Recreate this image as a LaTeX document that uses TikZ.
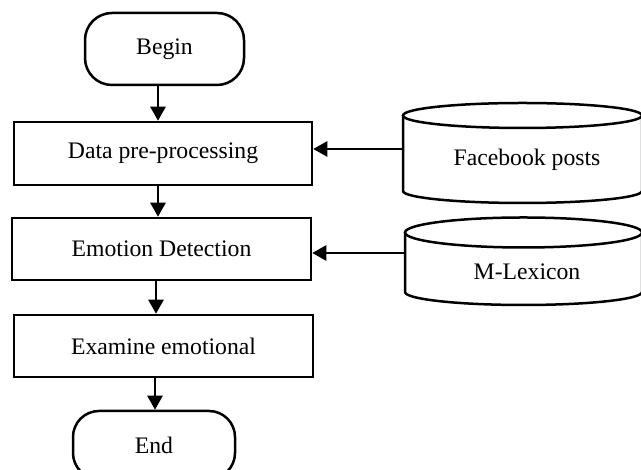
\documentclass[tikz,border=0pt]{standalone}
\usepackage{fontspec}
\setmainfont{Liberation Serif}
\usetikzlibrary{arrows.meta}
\tikzset{
  txt/.style={font=\fontsize{23.7}{28}\selectfont, inner sep=0pt},
  procbox/.style={txt, draw, line width=2.5pt, minimum width=299pt, minimum height=62pt},
  terminal/.style={txt, draw, line width=2.5pt, rounded corners=27pt},
  dbline/.style={line width=2.5pt},
  arr/.style={line width=2.5pt, -{Triangle[length=14pt,width=15pt]}}
}
\begin{document}
\begin{tikzpicture}[x=1pt,y=1pt]
\useasboundingbox (0,0) rectangle (641,470);

% flow chart column
\node[terminal, minimum width=159pt, minimum height=72pt] (begin) at (164.5,421) {Begin};
\node[procbox, minimum width=298pt, minimum height=63pt] (data) at (163,316.5) {Data pre-processing};
\node[procbox] (emo) at (161.5,221) {Emotion Detection};
\node[procbox] (exam) at (163.5,124) {Examine emotional};
\node[terminal, minimum width=162pt, minimum height=68pt, rounded corners=26pt] (end) at (154,25) {End};

% data stores (cylinders)
\draw[dbline] (403,354.5) -- (403,279) arc[start angle=180, end angle=360, x radius=119.5, y radius=12] -- (642,354.5);
\draw[dbline] (522.5,354.5) ellipse[x radius=119.5, y radius=12.5];
\node[txt] (fb) at (527,310) {Facebook posts};
\coordinate (fbin) at (403,321);

\draw[dbline] (405,237.5) -- (405,178) arc[start angle=180, end angle=360, x radius=118.5, y radius=13] -- (642,237.5);
\draw[dbline] (523.5,237.5) ellipse[x radius=118.5, y radius=15];
\node[txt] (ml) at (527,198) {M-Lexicon};
\coordinate (mlin) at (405,217);

% connectors
\draw[arr] ([xshift=-6.5pt]begin.south) -- ([xshift=-6.5pt]begin.south |- data.north);
\draw[arr] ([xshift=-5pt]data.south) -- ([xshift=-5pt]data.south |- emo.north);
\draw[arr] ([xshift=-5.5pt]emo.south) -- ([xshift=-5.5pt]emo.south |- exam.north);
\draw[arr] ([xshift=1pt]end.north |- exam.south) -- ([xshift=1pt]end.north);
\draw[arr] (fbin) -- (fbin -| data.east);
\draw[arr] (mlin) -- (mlin -| emo.east);
\end{tikzpicture}
\end{document}
